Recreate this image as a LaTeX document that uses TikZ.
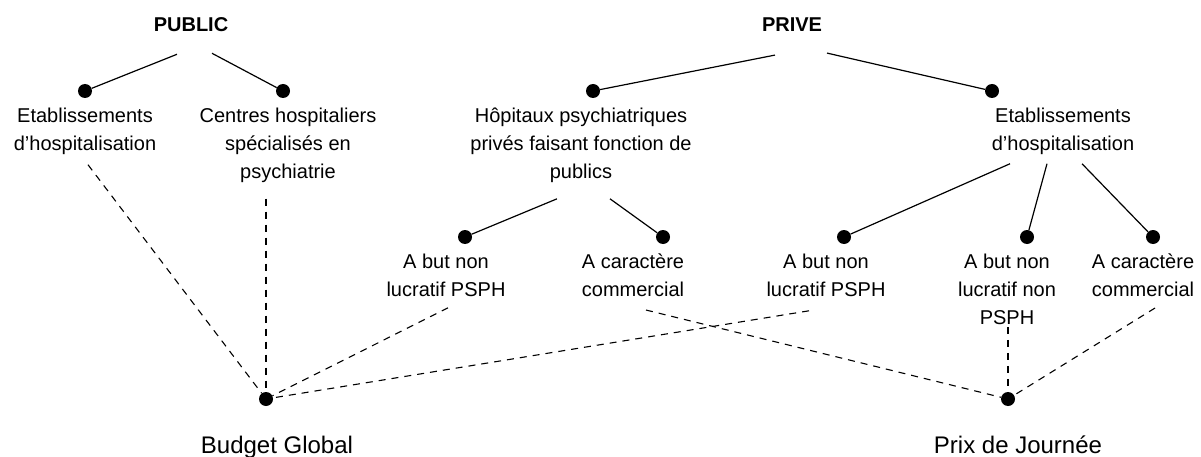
\documentclass[tikz,border=0pt]{standalone}
\usepackage{fontspec}
\setmainfont{Liberation Sans}
\usetikzlibrary{positioning}

\begin{document}
\begin{tikzpicture}[x=1pt, y=1pt,
    bullet/.style={circle, fill, inner sep=0, minimum size=14pt},
    txt/.style={align=center, inner sep=0, font=\fontsize{20}{28}\selectfont},
    head/.style={inner sep=0, font=\fontsize{20}{24}\selectfont\bfseries},
    total/.style={inner sep=0, font=\fontsize{24}{28}\selectfont},
    link/.style={line width=1.2pt},
    fund/.style={line width=1.1pt, dash pattern=on 7pt off 6pt}]
    \useasboundingbox (0,0) rectangle (1201,-457);

    \node (public) [head] at (191,-25) {PUBLIC};
    \node (prive) [head] at (792,-25) {PRIVE};

    \node (epubdot) [bullet] at (85,-91) {};
    \node (chsdot) [bullet] at (283,-91) {};
    \node (hopdot) [bullet] at (593,-91) {};
    \node (eprivdot) [bullet] at (992,-91) {};
    \node (nl1dot) [bullet] at (465,-237) {};
    \node (com1dot) [bullet] at (663,-237) {};
    \node (nl2dot) [bullet] at (844,-237) {};
    \node (nlnondot) [bullet] at (1027,-237) {};
    \node (com2dot) [bullet] at (1153,-237) {};
    \node (budgetdot) [bullet] at (266,-399) {};
    \node (prixdot) [bullet] at (1008,-399) {};

    \node (epub) [txt, below=9.5pt of epubdot] {Etablissements\\d'hospitalisation};
    \node (chs) [txt, below=9.5pt of chsdot, xshift=5pt] {Centres hospitaliers\\spécialisés en\\psychiatrie};
    \node (hop) [txt, below=9.5pt of hopdot, xshift=-12pt] {Hôpitaux psychiatriques\\privés faisant fonction de\\publics};
    \node (epriv) [txt, below=9.5pt of eprivdot, xshift=71pt] {Etablissements\\d'hospitalisation};
    \node (nl1) [txt, below=9.5pt of nl1dot, xshift=-19pt] {A but non\\lucratif PSPH};
    \node (com1) [txt, below=9.5pt of com1dot, xshift=-30pt] {A caractère\\commercial};
    \node (nl2) [txt, below=9.5pt of nl2dot, xshift=-18pt] {A but non\\lucratif PSPH};
    \node (nlnon) [txt, below=9.5pt of nlnondot, xshift=-20pt] {A but non\\lucratif non\\PSPH};
    \node (com2) [txt, below=9.5pt of com2dot, xshift=-10pt] {A caractère\\commercial};
    \node (budget) [total, below=29.5pt of budgetdot, xshift=11pt] {Budget Global};
    \node (prix) [total, below=29.5pt of prixdot, xshift=10pt] {Prix de Journée};

    \draw[link] (public.south) ++(-14,-22) -- (epubdot);
    \draw[link] (public.south) ++(21,-21) -- (chsdot);
    \draw[link] (prive.south) ++(-17,-23) -- (hopdot);
    \draw[link] (prive.south) ++(35,-21) -- (eprivdot);
    \draw[link] (hop.south) ++(-24,-16) -- (nl1dot);
    \draw[link] (hop.south) ++(29,-16) -- (com1dot);
    \draw[link] (epriv.south) ++(-53,-9) -- (nl2dot);
    \draw[link] (epriv.south) ++(-16,-9) -- (nlnondot);
    \draw[link] (epriv.south) ++(19,-9) -- (com2dot);

    \draw[fund] (epub.south) ++(3,-10) -- (budgetdot);
    \draw[fund] (chs.south) ++(-22,-16) -- (budgetdot);
    \draw[fund] (nl1.south) ++(2,-11) -- (budgetdot);
    \draw[fund] (nl2.south) ++(-17,-14) -- (budgetdot);
    \draw[fund] (com1.south) ++(13,-13) -- (prixdot);
    \draw[fund] (nlnon.south) ++(1,-2) -- (prixdot);
    \draw[fund] (com2.south) ++(12,-11) -- (prixdot);
\end{tikzpicture}
\end{document}
